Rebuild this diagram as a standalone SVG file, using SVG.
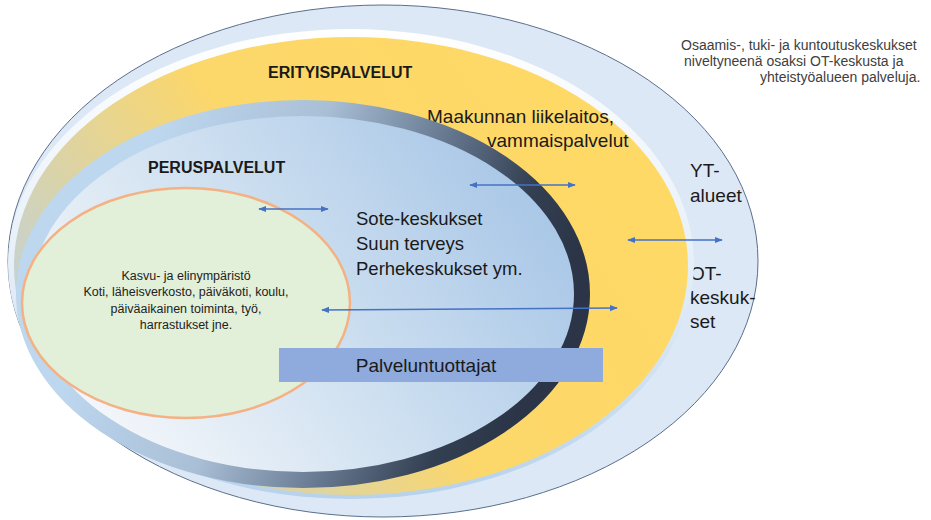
<svg xmlns="http://www.w3.org/2000/svg" width="931" height="520" viewBox="0 0 931 520">
  <defs>
    <linearGradient id="gRim" x1="0" y1="0" x2="0" y2="1">
      <stop offset="0" stop-color="#ffffff"/>
      <stop offset="0.5" stop-color="#e6eff8"/>
      <stop offset="1" stop-color="#b7d2ec"/>
    </linearGradient>
    <linearGradient id="gYellow" gradientUnits="userSpaceOnUse" x1="550" y1="100" x2="60" y2="450">
      <stop offset="0" stop-color="#ffd966"/>
      <stop offset="0.45" stop-color="#fcd76a"/>
      <stop offset="0.75" stop-color="#d8d3ac"/>
      <stop offset="1" stop-color="#b9d2ea"/>
    </linearGradient>
    <linearGradient id="gInner" gradientUnits="userSpaceOnUse" x1="520" y1="170" x2="130" y2="460">
      <stop offset="0" stop-color="#a9c7e7"/>
      <stop offset="0.5" stop-color="#cddff0"/>
      <stop offset="1" stop-color="#f3f6fa"/>
    </linearGradient>
    <linearGradient id="gRing" gradientUnits="userSpaceOnUse" x1="150" y1="150" x2="560" y2="300">
      <stop offset="0" stop-color="#bdd7ee"/>
      <stop offset="0.35" stop-color="#a9bfd6"/>
      <stop offset="0.6" stop-color="#6c7f97"/>
      <stop offset="0.85" stop-color="#333f52"/>
      <stop offset="1" stop-color="#2b3547"/>
    </linearGradient>
    <marker id="ah" viewBox="0 0 10 10" refX="9" refY="5" markerWidth="5" markerHeight="5" orient="auto-start-reverse" markerUnits="strokeWidth">
      <path d="M0,1 L10,5 L0,9 Z" fill="#4472c4"/>
    </marker>
    <style>
      text { font-family: "Liberation Sans", Arial, sans-serif; fill: #1a1a1a; }
      .bold { font-weight: bold; font-size: 16px; }
      .big { font-size: 19px; }
      .mid { font-size: 18.5px; }
      .note { font-size: 14px; fill: #404040; }
      .small { font-size: 12.5px; fill: #222222; }
      .conn { stroke: #4472c4; stroke-width: 1.6; fill: none; marker-start: url(#ah); marker-end: url(#ah); }
    </style>
  </defs>

  <rect width="931" height="520" fill="#ffffff"/>

  <g id="outer-yt-alueet">
    <ellipse cx="383" cy="261" rx="375" ry="256" fill="#dce8f5" stroke="#5b6f8c" stroke-width="1"/>
    <text class="big" x="690" y="177">YT-</text>
    <text class="big" x="690" y="202">alueet</text>
    <text class="big" x="690" y="280">OT-</text>
    <text class="big" x="690" y="304">keskuk-</text>
    <text class="big" x="690" y="328">set</text>
  </g>

  <g id="erityispalvelut">
    <ellipse cx="351" cy="264" rx="343" ry="235" fill="url(#gRim)"/>
    <ellipse cx="351" cy="266" rx="337" ry="229" fill="url(#gYellow)"/>
    <text class="bold" x="268" y="78">ERITYISPALVELUT</text>
    <text class="big" x="427" y="123">Maakunnan liikelaitos,</text>
    <text class="big" x="487" y="147">vammaispalvelut</text>
  </g>

  <g id="peruspalvelut">
    <ellipse cx="303" cy="294" rx="279" ry="186" fill="url(#gInner)" stroke="url(#gRing)" stroke-width="16"/>
    <text class="bold" x="148" y="173">PERUSPALVELUT</text>
    <text class="mid" x="356" y="225">Sote-keskukset</text>
    <text class="mid" x="356" y="250">Suun terveys</text>
    <text class="mid" x="356" y="275">Perhekeskukset ym.</text>
  </g>

  <g id="kasvu-ja-elinymparisto">
    <ellipse cx="186" cy="303" rx="164" ry="115" fill="#e2efd9" stroke="#f4b183" stroke-width="2.5"/>
    <text class="small" x="186" y="280" text-anchor="middle">Kasvu- ja elinympäristö</text>
    <text class="small" x="186" y="296" text-anchor="middle">Koti, läheisverkosto, päiväkoti, koulu,</text>
    <text class="small" x="186" y="313" text-anchor="middle">päiväaikainen toiminta, työ,</text>
    <text class="small" x="186" y="329" text-anchor="middle">harrastukset jne.</text>
  </g>

  <g id="palveluntuottajat">
    <rect x="279" y="348" width="324" height="34" fill="#8faadc"/>
    <text x="426" y="372" text-anchor="middle" style="font-size:19px">Palveluntuottajat</text>
  </g>

  <g id="note">
    <text class="note" x="681" y="50">Osaamis-, tuki- ja kuntoutuskeskukset</text>
    <text class="note" x="684" y="66">niveltyneenä osaksi OT-keskusta ja</text>
    <text class="note" x="760" y="82">yhteistyöalueen palveluja.</text>
  </g>

  <g id="connectors">
    <line class="conn" x1="470" y1="185" x2="575" y2="185"/>
    <line class="conn" x1="259" y1="209" x2="328" y2="209"/>
    <line class="conn" x1="322" y1="310" x2="617" y2="308"/>
    <line class="conn" x1="628" y1="240" x2="722" y2="240"/>
  </g>
</svg>
